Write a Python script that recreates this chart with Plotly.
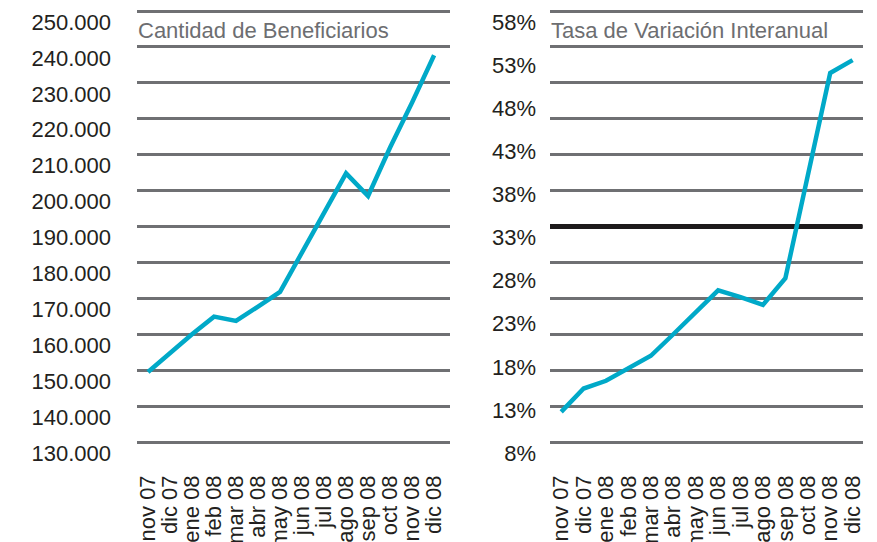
import plotly.graph_objects as go

# ---- data ----
meses = ["nov 07", "dic 07", "ene 08", "feb 08", "mar 08", "abr 08", "may 08",
         "jun 08", "jul 08", "ago 08", "sep 08", "oct 08", "nov 08", "dic 08"]
beneficiarios = [149500, 154800, 160000, 164900, 163700, 167700, 171800,
                 182800, 193800, 204800, 198500, 212000, 224500, 237700]
variacion = [11.5, 14.2, 15.1, 16.5, 18.0, 20.5, 23.1,
             25.6, 24.8, 23.9, 27.0, 39.0, 50.8, 52.3]
referencia = 33.0

ben_ticks = [130000, 140000, 150000, 160000, 170000, 180000, 190000,
             200000, 210000, 220000, 230000, 240000, 250000]
ben_labels = ["130.000", "140.000", "150.000", "160.000", "170.000", "180.000",
              "190.000", "200.000", "210.000", "220.000", "230.000", "240.000",
              "250.000"]
var_ticks = [8, 13, 18, 23, 28, 33, 38, 43, 48, 53, 58]
var_labels = ["8%", "13%", "18%", "23%", "28%", "33%", "38%", "43%", "48%",
              "53%", "58%"]

titulo_izq = "Cantidad de Beneficiarios"
titulo_der = "Tasa de Variación Interanual"

# ---- style ----
WIN_W, WIN_H = 877, 542
OFF = 8                      # default page margin around the plot div
W, H = WIN_W - OFF, WIN_H - OFF
FONT = "Liberation Sans, Arial, Helvetica, sans-serif"
TXT = "#231f20"
GRID = "#6f7073"
CYAN = "#00a9c8"
TITLE_C = "#6d6e71"
FS = 22

def px_x(p):
    return (p - OFF) / W

def px_y(p):
    return 1 - (p - OFF) / H

TOP, BOT = 11, 442           # window pixels of top / bottom gridline
PAD_T, PAD_B = 3, 4          # pixels of padding beyond edge gridlines
span = BOT - TOP
ydom = [px_y(BOT + PAD_B), min(1.0, px_y(TOP - PAD_T))]
ben_range = [130000 - 120000 / span * PAD_B, 250000 + 120000 / span * PAD_T]
var_range = [8 - 50 / span * PAD_B, 58 + 50 / span * PAD_T]
# the right panel shares the 12-band background grid of the left panel
grid_der = [8 + k * 50 / 12 for k in range(13)]
x1_range = [-0.5, 13.7]
x2_range = [-0.5, 13.45]

fig = go.Figure()

fig.add_trace(go.Scatter(
    x=meses, y=beneficiarios, mode="lines", xaxis="x", yaxis="y",
    line=dict(color=CYAN, width=4.5), showlegend=False, hoverinfo="skip"))

fig.add_trace(go.Scatter(
    x=meses, y=variacion, mode="lines", xaxis="x2", yaxis="y3",
    line=dict(color=CYAN, width=4.5), showlegend=False, hoverinfo="skip"))

xcommon = dict(
    type="category", categoryorder="array", categoryarray=meses,
    tickmode="array", tickvals=meses, ticktext=meses,
    tickangle=-90, ticks="", showgrid=False, zeroline=False, showline=False,
    tickfont=dict(family=FONT, size=FS, color=TXT),
    ticklabelstandoff=24,
)

fig.update_layout(
    width=W, height=H,
    margin=dict(l=0, r=0, t=0, b=0, autoexpand=False),
    paper_bgcolor="white", plot_bgcolor="white",
    font=dict(family=FONT, color=TXT),
    xaxis=dict(domain=[px_x(137), px_x(449.5)], anchor="y",
               range=x1_range, automargin=False, **xcommon),
    yaxis=dict(domain=ydom, anchor="x", range=ben_range,
               tickmode="array", tickvals=ben_ticks, ticktext=ben_labels,
               showgrid=True, gridcolor=GRID, gridwidth=2.6,
               zeroline=False, showline=False, ticks="",
               ticklabelshift=11, ticklabelstandoff=25, automargin=False,
               tickfont=dict(family=FONT, size=FS, color=TXT)),
    xaxis2=dict(domain=[px_x(550), px_x(862.7)], anchor="y2",
                range=x2_range, automargin=False, **xcommon),
    # base axis of right panel: background grid only
    yaxis2=dict(domain=ydom, anchor="x2", range=var_range,
                tickmode="array", tickvals=grid_der,
                showgrid=True, gridcolor=GRID, gridwidth=2.6,
                showticklabels=False, zeroline=False, showline=False,
                ticks="", automargin=False),
    # percent axis carrying the labels and the series
    yaxis3=dict(overlaying="y2", anchor="x2", side="left", range=var_range,
                tickmode="array", tickvals=var_ticks, ticktext=var_labels,
                showgrid=False, zeroline=False, showline=False, ticks="",
                ticklabelshift=11, ticklabelstandoff=13, automargin=False,
                tickfont=dict(family=FONT, size=FS, color=TXT)),
)

# reference line at 33% spanning the full width of the right panel
fig.add_shape(type="line", xref="x2", yref="y2",
              x0=x2_range[0], x1=x2_range[1], y0=referencia, y1=referencia,
              line=dict(color="#1d1a1b", width=5), layer="between")

# panel titles
fig.add_annotation(text=titulo_izq, xref="x domain", x=0, xanchor="left",
                   yref="paper", y=px_y(31), yanchor="middle", showarrow=False,
                   font=dict(family=FONT, size=FS, color=TITLE_C), xshift=-1)
fig.add_annotation(text=titulo_der, xref="x2 domain", x=0, xanchor="left",
                   yref="paper", y=px_y(31), yanchor="middle", showarrow=False,
                   font=dict(family=FONT, size=FS, color=TITLE_C), xshift=-1)

fig.write_html("out.html")
